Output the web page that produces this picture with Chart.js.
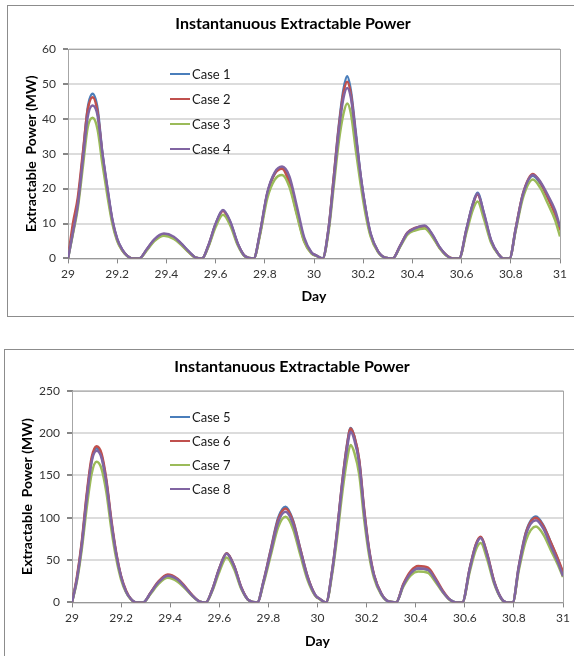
<!DOCTYPE html>
<html lang="en">
<head>
<meta charset="UTF-8">
<title>Instantanuous Extractable Power</title>
<style>
    body {
        margin: 0;
        width: 574px;
        height: 656px;
        overflow: hidden;
        position: relative;
        background: #fff;
        font-family: Lato, "Open Sans", sans-serif;
    }
    .box {
        position: absolute;
        border: 1px solid #8c8c8c;
        width: 620px;
    }
    #box1 { left: 7px; top: 5px; height: 310px; }
    #box2 { left: 4px; top: 349px; height: 400px; }
    canvas { position: absolute; left: 0; }
    #chart1 { top: 0; }
    #chart2 { top: 330px; }
    .legend {
        position: absolute;
        left: 170px;
        font-size: 13px;
        color: #1a1a1a;
    }
    .legend div {
        display: flex;
        align-items: center;
    }
    .legend .sw {
        display: inline-block;
        width: 20px;
        height: 2px;
        margin-right: 2px;
    }
    #legend1 { top: 61px; }
    #legend1 div { height: 25px; }
    #legend2 { top: 405px; }
    #legend2 div { height: 24px; }
</style>
<script src="https://cdn.jsdelivr.net/npm/chart.js"></script>
</head>
<body>

<div class="box" id="box1"></div>
<div class="box" id="box2"></div>
<canvas id="chart1" width="574" height="320"></canvas>
<canvas id="chart2" width="574" height="326"></canvas>
<div class="legend" id="legend1"></div>
<div class="legend" id="legend2"></div>

<script>
// time axis (days)
const days = [29.00, 29.02, 29.04, 29.06, 29.08, 29.10, 29.12, 29.14, 29.16, 29.18, 29.20, 29.22, 29.24, 29.26, 29.29,
    29.32, 29.35, 29.39, 29.43, 29.46, 29.49, 29.52, 29.545,
    29.57, 29.60, 29.63, 29.66, 29.69, 29.72, 29.755,
    29.78, 29.81, 29.84, 29.87, 29.90, 29.93, 29.96, 29.99, 30.01, 30.035,
    30.06, 30.08, 30.10, 30.12, 30.135, 30.15, 30.17, 30.19, 30.21, 30.23, 30.26, 30.29, 30.32,
    30.35, 30.38, 30.41, 30.45, 30.48, 30.51, 30.54, 30.565, 30.59,
    30.62, 30.645, 30.665, 30.69, 30.72, 30.75, 30.77, 30.795,
    30.82, 30.85, 30.89, 30.92, 30.95, 30.98, 31.00];

// top chart (MW)
const case1 = [0, 7.5, 16, 29, 43, 47.2, 43, 30, 20, 11, 5.5, 2.5, 0.8, 0, 0,
    2.5, 5.2, 6.9, 6.0, 4.2, 2.0, 0.2, 0,
    3.5, 9.8, 13.8, 10.3, 4.2, 0.6, 0,
    7, 18.5, 24.3, 26, 22.5, 14, 5.5, 1.6, 0.8, 0,
    9, 23, 37.5, 48.5, 52.2, 48, 36, 23.5, 14, 7, 2, 0.2, 0,
    3.5, 7.2, 8.5, 9.2, 6.8, 3.2, 0.8, 0, 0,
    8.5, 15.5, 18.8, 13, 5, 1.2, 0, 0,
    8.5, 18.5, 23.7, 21.5, 17.5, 13, 8.5];
const case2 = [0, 10, 17.5, 30, 42.5, 46.2, 42, 29.5, 19.5, 10.8, 5.3, 2.4, 0.8, 0, 0,
    2.5, 5.2, 6.9, 5.9, 4.1, 1.9, 0.2, 0,
    3.5, 9.7, 13.6, 10.1, 4.1, 0.6, 0,
    7, 18.5, 24.2, 25.7, 21.5, 13, 5, 1.5, 0.8, 0,
    9, 23, 37, 47.5, 50.6, 47, 35, 23, 13.7, 6.8, 2, 0.2, 0,
    3.6, 7.4, 8.7, 9.2, 6.7, 3.1, 0.8, 0, 0,
    8.3, 15.2, 18.3, 12.7, 4.9, 1.2, 0, 0,
    8.6, 18.7, 24.2, 21.8, 17.5, 12.6, 8];
const case3 = [0, 7, 14.5, 26, 37.5, 40.3, 37, 27, 18, 10, 5, 2.3, 0.7, 0, 0,
    2.3, 4.9, 6.5, 5.6, 3.9, 1.8, 0.2, 0,
    3.2, 9, 12.5, 9.4, 3.8, 0.5, 0,
    6.5, 17.2, 22.5, 23.9, 20.5, 12.5, 4.8, 1.4, 0.7, 0,
    8, 20.5, 33, 41.5, 44.4, 41.5, 31, 21, 12.5, 6.3, 1.8, 0.2, 0,
    3.3, 6.8, 8, 8.6, 6.3, 3, 0.7, 0, 0,
    7.5, 13.8, 16.3, 11.5, 4.5, 1.1, 0, 0,
    8, 17.5, 22.6, 20.2, 15.8, 11, 6.3];
const case4 = [0, 7.5, 15.5, 28, 40.5, 43.8, 41, 30, 20.3, 11.2, 5.6, 2.6, 0.8, 0, 0,
    2.6, 5.4, 7.1, 6.2, 4.3, 2.1, 0.2, 0,
    3.6, 9.9, 13.9, 10.5, 4.3, 0.6, 0,
    7.2, 18.8, 24.6, 26.3, 23.5, 15, 6, 1.7, 0.8, 0,
    8.8, 22, 36, 46, 48.8, 46, 35, 23.5, 14.2, 7.2, 2.1, 0.2, 0,
    3.6, 7.3, 8.6, 9.4, 7, 3.3, 0.8, 0, 0,
    8.4, 15.4, 18.6, 13.2, 5.2, 1.2, 0, 0,
    8.4, 18.5, 23.9, 22, 18.2, 13.8, 9];

// bottom chart (MW)
const case5 = [0, 28, 70, 125, 168, 182, 173, 142, 95, 57, 30, 13, 4, 0, 0,
    11, 23, 32, 27, 18, 8, 1, 0,
    14, 40, 58, 43, 17, 2.5, 0,
    25, 63, 100, 113, 97, 63, 30, 9, 4, 0,
    38, 85, 140, 186, 206, 196, 167, 108, 62, 32, 10, 1, 0,
    21, 35, 40, 38.5, 27, 13, 3, 0, 0,
    40, 68, 77, 58, 24, 4, 0, 0,
    43, 84, 101.5, 91, 71, 50, 34];
const case6 = [0, 30, 72, 128, 171, 184.5, 176, 145, 98, 59, 31, 14, 4, 0, 0,
    11.5, 24, 33, 28, 19, 8.5, 1, 0,
    14, 40, 58, 43.5, 17.5, 2.5, 0,
    24.5, 62, 98, 111, 96, 63, 30, 9, 4, 0,
    38, 85, 140, 185, 205.5, 196, 168, 110, 63, 33, 10.5, 1, 0,
    22, 37, 43, 41, 29, 14, 3, 0, 0,
    40, 68.5, 77.5, 58.5, 24.5, 4, 0, 0,
    42, 83, 100, 90, 71, 51, 36];
const case7 = [0, 25, 63, 112, 152, 166, 158, 130, 87, 52, 27, 12, 3.5, 0, 0,
    10, 21, 29, 24.5, 16.5, 7.5, 1, 0,
    12.5, 36, 53, 39.5, 15.5, 2.3, 0,
    22, 56, 89, 101, 87, 56, 26, 8, 3.5, 0,
    34, 77, 127, 168, 186, 177, 151, 98, 56, 29, 9, 1, 0,
    19, 32, 36.5, 35, 24.5, 12, 2.7, 0, 0,
    36, 62, 70, 52, 21.5, 3.5, 0, 0,
    38, 74, 89.5, 80, 62, 44, 30];
const case8 = [0, 27, 68, 122, 166, 179, 171, 141, 95, 57, 30, 13, 4, 0, 0,
    11, 23, 31.5, 27, 18, 8, 1, 0,
    13.5, 39.5, 57.5, 43, 17, 2.5, 0,
    24, 60, 95, 107, 93, 61, 29, 9, 4, 0,
    37, 83, 137, 181, 201.5, 192, 164, 106, 61, 32, 10, 1, 0,
    20.5, 34.5, 40, 38.5, 27, 13, 3, 0, 0,
    39, 67, 76, 57, 23.5, 4, 0, 0,
    41, 81, 97, 87, 67, 47, 31];

const xTicks = [29, 29.2, 29.4, 29.6, 29.8, 30, 30.2, 30.4, 30.6, 30.8, 31];
const yTicks1 = [0, 10, 20, 30, 40, 50, 60];
const yTicks2 = [0, 50, 100, 150, 200, 250];
const names1 = ['Case 1', 'Case 2', 'Case 3', 'Case 4'];
const names2 = ['Case 5', 'Case 6', 'Case 7', 'Case 8'];
const colors = ['#4a7ebb', '#c0504d', '#9bbb59', '#8064a2'];

const titleText = 'Instantanuous Extractable Power';
const yTitle = 'Extractable  Power (MW)';
const xTitle = 'Day';

// rahmen um die plotfläche
const plotFrame = {
    id: 'plotFrame',
    beforeDatasetsDraw(chart) {
        const { ctx, chartArea: a } = chart;
        ctx.save();
        ctx.strokeStyle = '#a6a6a6';
        ctx.lineWidth = 1;
        ctx.strokeRect(a.left + 0.5, a.top + 0.5, a.right - a.left, a.bottom - a.top);
        ctx.restore();
    }
};

function makeChart(id, series, names, yTicks, g) {
    const datasets = series.map((s, i) => ({
        label: names[i],
        data: days.map((d, k) => ({ x: d, y: s[k] })),
        borderColor: colors[i],
        backgroundColor: colors[i],
        borderWidth: 2.5,
        pointRadius: 0,
        cubicInterpolationMode: 'monotone',
        order: series.length - i
    }));

    const chart = new Chart(document.getElementById(id), {
        type: 'line',
        data: { datasets },
        plugins: [plotFrame],
        options: {
            responsive: false,
            animation: false,
            layout: { padding: { left: g.padL, right: g.padR, top: 0, bottom: g.padB } },
            plugins: {
                legend: { display: false },
                tooltip: { enabled: false },
                title: {
                    display: true,
                    text: titleText,
                    color: '#000',
                    font: { family: 'Lato', size: 16, weight: 'bold', lineHeight: 1.2 },
                    padding: { top: g.titleTop, bottom: g.titleBottom }
                }
            },
            scales: {
                x: {
                    type: 'linear',
                    min: 29,
                    max: 31,
                    afterBuildTicks: s => { s.ticks = xTicks.map(v => ({ value: v })); },
                    afterFit: s => { s.height = g.xH; },
                    grid: { drawOnChartArea: false, tickLength: 5, color: '#868686' },
                    border: { color: '#868686', width: 1 },
                    ticks: {
                        padding: 4,
                        color: '#333',
                        font: { family: 'Lato', size: 12 },
                        maxRotation: 0,
                        callback: v => String(v)
                    },
                    title: {
                        display: true,
                        text: xTitle,
                        color: '#000',
                        font: { family: 'Lato', size: 14, weight: 'bold' },
                        padding: { top: 0, bottom: 0 }
                    }
                },
                y: {
                    min: 0,
                    max: yTicks[yTicks.length - 1],
                    afterBuildTicks: s => { s.ticks = yTicks.map(v => ({ value: v })); },
                    afterFit: s => { s.width = g.yW; },
                    grid: {
                        color: c => c.tick && c.tick.value === 0 ? 'rgba(0,0,0,0)' : '#dcdcdc',
                        tickColor: '#868686',
                        lineWidth: 2,
                        tickLength: 5
                    },
                    border: { color: '#868686', width: 1 },
                    ticks: {
                        padding: 7,
                        color: '#333',
                        font: { family: 'Lato', size: 12 }
                    },
                    title: {
                        display: true,
                        text: yTitle,
                        color: '#000',
                        font: { family: 'Lato', size: 14, weight: 'bold' },
                        padding: { top: g.yTitlePad, bottom: 0 }
                    }
                }
            }
        }
    });

    // legende innerhalb der plotfläche
    const box = document.getElementById(g.legend);
    datasets.forEach(ds => {
        const row = document.createElement('div');
        row.innerHTML = `<span class="sw" style="background:${ds.borderColor}"></span>${ds.label}`;
        box.appendChild(row);
    });
    return chart;
}

makeChart('chart1', [case1, case2, case3, case4], names1, yTicks1, {
    padL: 26, padR: 14, padB: 15.6, titleTop: 14.4, titleBottom: 15.4,
    xH: 46, yW: 42, yTitlePad: -3.4, legend: 'legend1'
});
makeChart('chart2', [case5, case6, case7, case8], names2, yTicks2, {
    padL: 21, padR: 11, padB: 6.6, titleTop: 27.4, titleBottom: 14.1,
    xH: 47, yW: 51, yTitlePad: -1.9, legend: 'legend2'
});
</script>

</body>
</html>
